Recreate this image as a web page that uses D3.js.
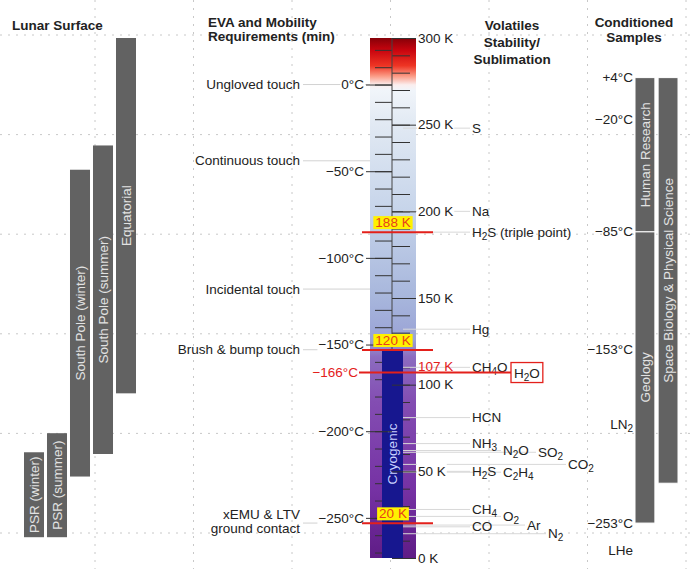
<!DOCTYPE html>
<html>
<head>
<meta charset="utf-8">
<script src="https://cdn.jsdelivr.net/npm/d3@7"></script>
<style>
  body { margin: 0; background: #fff; }
  text { font-family: "Liberation Sans", Arial, sans-serif; }
</style>
</head>
<body>
<div id="chart"></div>
<script>
// ---- data (temperatures in K unless noted) ----
const lunarSites = ["PSR (winter)", "PSR (summer)", "South Pole (winter)", "South Pole (summer)", "Equatorial"];
const lunarMinK = [12, 12, 47, 60, 95];
const lunarMaxK = [61, 72, 224, 238, 300];

const evaTasks = ["Ungloved touch", "Continuous touch", "Incidental touch", "Brush & bump touch", "xEMU & LTV|ground contact"];
const evaMinC = [0, -44, -118, -153, -253];

const volatiles = ["S", "Na", "H2S (triple point)", "Hg", "CH4O", "HCN", "NH3", "N2O", "SO2", "CO2",
                   "H2S", "C2H4", "CH4", "O2", "Ar", "CO", "N2"];
const volatileK = [248, 200, 188, 132, 110, 81, 66, 62, 61, 54, 50, 49.5, 28, 24, 19, 18, 14];

const limitK = [188, 120, 20];
const waterK = 107;

const sampleTypes = ["Human Research", "Geology", "Space Biology & Physical Science"];
const sampleCol = [0, 0, 1];
const sampleMaxC = [4, -85, 4];
const sampleMinC = [-85, -253, -230];

const sampleTicks = ["+4°C", "−20°C", "−85°C", "−153°C", "LN2", "−253°C", "LHe"];
const sampleTickK = [277.15, 253.15, 188.15, 120.15, 77, 20.15, 4.2];

const kelvinMajor = [0, 50, 100, 150, 200, 250, 300];
const celsiusMajor = [0, -50, -100, -150, -200, -250];

// label layout for the staggered volatile names
const volatileLabelX = [472, 472, 472, 472, 472, 472, 472, 503, 538, 568, 472, 503, 472, 503, 527, 472, 548];

const W = 690, H = 569;
const FS = 13.5;
const c2k = c => c + 273.15;
const fmtC = d => (d === 0 ? "0" : "−" + Math.abs(d)) + "°C";

const svg = d3.select("#chart").append("svg")
  .attr("width", W)
  .attr("height", H);

const y = d3.scaleLinear().domain([0, 300]).range([558, 38]);
const yC = d3.scaleLinear().domain([-273.15, 26.85]).range([558, 38]);

const thermo = { x0: 370, x1: 416, mid: 392, cryo0: 382, cryo1: 403 };

// subscript digits that follow a letter (chemical names)
function chem(sel, str) {
  let shifted = false;
  str.split(/(?<=[A-Za-z])(\d+)/).forEach((p, i) => {
    if (!p) return;
    const t = sel.append("tspan").text(p);
    if (i % 2 === 1) { t.attr("dy", 3).style("font-size", "10px"); shifted = true; }
    else if (shifted) { t.attr("dy", -3); shifted = false; }
  });
}

function whiteBehind(textSel, pad) {
  textSel.each(function() {
    const b = this.getBBox();
    d3.select(this.parentNode).insert("rect", () => this)
      .attr("x", b.x - pad).attr("y", b.y - 1)
      .attr("width", b.width + pad * 2).attr("height", b.height + 2)
      .attr("fill", "#fff");
  });
}

// ---- background grid ----
const grid = svg.append("g")
  .attr("stroke", "#c8c8c8")
  .attr("stroke-dasharray", "2,6");
grid.selectAll("line.v").data(d3.range(7)).enter().append("line")
  .attr("x1", i => 95 + i * 98.5).attr("x2", i => 95 + i * 98.5)
  .attr("y1", 0).attr("y2", H);
grid.selectAll("line.h").data(d3.range(6)).enter().append("line")
  .attr("x1", 0).attr("x2", W)
  .attr("y1", i => 35 + i * 99.6).attr("y2", i => 35 + i * 99.6);

// ---- headers ----
const head = svg.append("g")
  .attr("font-size", FS).attr("font-weight", "bold").attr("fill", "#222");
head.append("text").attr("x", 12).attr("y", 30).text("Lunar Surface");
head.append("text").attr("x", 208).attr("y", 27).text("EVA and Mobility");
head.append("text").attr("x", 208).attr("y", 41).text("Requirements (min)");
[["Volatiles", 30], ["Stability/", 47], ["Sublimation", 64]].forEach(([t, yy]) =>
  head.append("text").attr("x", 512).attr("y", yy).attr("text-anchor", "middle").text(t));
[["Conditioned", 27], ["Samples", 42]].forEach(([t, yy]) =>
  head.append("text").attr("x", 634).attr("y", yy).attr("text-anchor", "middle").text(t));

// ---- lunar surface bars ----
const xL = d3.scaleBand().domain(lunarSites).range([24, 136]).paddingInner(0.13);
const lunar = lunarSites.map((s, i) => ({ name: s, lo: lunarMinK[i], hi: lunarMaxK[i] }));

svg.selectAll("rect.lunar").data(lunar).enter().append("rect")
  .attr("class", "lunar")
  .attr("x", d => xL(d.name))
  .attr("width", xL.bandwidth())
  .attr("y", d => y(d.hi))
  .attr("height", d => y(d.lo) - y(d.hi))
  .attr("fill", "#626262");

svg.selectAll("text.lunar").data(lunar).enter().append("text")
  .attr("class", "lunar")
  .attr("transform", d => `translate(${xL(d.name) + xL.bandwidth() / 2 + 4.8},${(y(d.hi) + y(d.lo)) / 2}) rotate(-90)`)
  .attr("text-anchor", "middle")
  .attr("font-size", FS)
  .attr("fill", "#e2e2e2")
  .text(d => d.name);

// ---- EVA requirements ----
const eva = evaTasks.map((t, i) => ({ lines: t.split("|"), k: c2k(evaMinC[i]) }));
svg.selectAll("line.eva").data(eva).enter().append("line")
  .attr("x1", 303).attr("x2", thermo.x0)
  .attr("y1", d => y(d.k)).attr("y2", d => y(d.k))
  .attr("stroke", "#d2d2d2");

const evaText = svg.selectAll("text.eva").data(eva).enter().append("text")
  .attr("class", "eva")
  .attr("x", 300)
  .attr("y", d => d.lines.length > 1 ? y(d.k) - 4 : y(d.k) + 4.5)
  .attr("text-anchor", "end")
  .attr("font-size", FS)
  .attr("fill", "#222");
evaText.each(function(d) {
  d.lines.forEach((l, j) => d3.select(this).append("tspan")
    .attr("x", 300).attr("dy", j ? 14 : 0).text(l));
});

// ---- thermometer ----
const grad = svg.append("defs").append("linearGradient")
  .attr("id", "temp")
  .attr("gradientUnits", "userSpaceOnUse")
  .attr("x1", 0).attr("x2", 0)
  .attr("y1", y(300)).attr("y2", y(0));
[[300, "#860008"], [293, "#c8040e"], [284, "#ee3524"], [278, "#fb9b86"], [273, "#fbeeee"],
 [270, "#f1f5fa"], [250, "#e1e9f3"], [200, "#c6d4ea"], [150, "#a7b6dc"], [126, "#9aa2d6"],
 [116, "#8c6cc0"], [90, "#834db2"], [40, "#7632a4"], [0, "#5f1c86"]]
  .forEach(([k, c]) => grad.append("stop")
    .attr("offset", (y(k) - y(300)) / (y(0) - y(300)))
    .attr("stop-color", c));

svg.append("rect")
  .attr("x", thermo.x0).attr("width", thermo.x1 - thermo.x0)
  .attr("y", y(300)).attr("height", y(0) - y(300))
  .attr("fill", "url(#temp)");

// minor ticks
svg.append("g")
  .attr("transform", `translate(${thermo.mid},0)`)
  .call(d3.axisLeft(yC).tickValues(d3.range(-270, 21, 10)).tickSize(17).tickFormat(""))
  .call(g => g.select(".domain").remove())
  .selectAll("line").attr("stroke", "#333");
svg.append("g")
  .attr("transform", `translate(${thermo.mid},0)`)
  .call(d3.axisRight(y).tickValues(d3.range(0, 301, 10)).tickSize(18).tickFormat(""))
  .call(g => g.select(".domain").remove())
  .selectAll("line").attr("stroke", "#333");

// cryogenic core
svg.append("rect")
  .attr("x", thermo.cryo0).attr("width", thermo.cryo1 - thermo.cryo0)
  .attr("y", y(120)).attr("height", y(0) - y(120))
  .attr("fill", "#17178f");
svg.append("text")
  .attr("transform", `translate(${(thermo.cryo0 + thermo.cryo1) / 2 + 4.8},${(y(120) + y(0)) / 2}) rotate(-90)`)
  .attr("text-anchor", "middle")
  .attr("font-size", FS)
  .attr("fill", "#c9d2ff")
  .text("Cryogenic");

svg.append("line")
  .attr("x1", thermo.mid).attr("x2", thermo.mid)
  .attr("y1", y(300)).attr("y2", y(120))
  .attr("stroke", "#444");

// ---- volatile leader lines and names ----
const vol = volatiles.map((v, i) => ({ name: v, k: volatileK[i], x: volatileLabelX[i] }));
svg.selectAll("line.vol").data(vol).enter().append("line")
  .attr("x1", thermo.cryo1).attr("x2", d => d.x - 2)
  .attr("y1", d => y(d.k)).attr("y2", d => y(d.k))
  .attr("stroke", "#d8d8d8");

// major axes with labels on white
const cAxis = svg.append("g")
  .attr("transform", `translate(${thermo.mid},0)`)
  .call(d3.axisLeft(yC).tickValues(celsiusMajor).tickSize(26).tickPadding(2).tickFormat(fmtC))
  .call(g => g.select(".domain").remove());
cAxis.attr("font-size", FS).attr("font-family", null);
cAxis.selectAll("line").attr("stroke", "#333");
cAxis.selectAll("text").attr("fill", "#222");
whiteBehind(cAxis.selectAll("text"), 1);

const kAxis = svg.append("g")
  .attr("transform", `translate(${thermo.mid},0)`)
  .call(d3.axisRight(y).tickValues(kelvinMajor).tickSize(24).tickPadding(2).tickFormat(d => d + " K"))
  .call(g => g.select(".domain").remove());
kAxis.attr("font-size", FS).attr("font-family", null);
kAxis.selectAll("line").attr("stroke", "#333");
kAxis.selectAll("text").attr("fill", "#222");
whiteBehind(kAxis.selectAll("text"), 1);

svg.selectAll("text.vol").data(vol).enter().append("text")
  .attr("class", "vol")
  .attr("x", d => d.x)
  .attr("y", d => y(d.k) + 4.5)
  .attr("font-size", FS)
  .attr("fill", "#222")
  .each(function(d) { chem(d3.select(this), d.name); });

// ---- water line (107 K / -166 °C) ----
const red = "#e3201b";
const wy = y(waterK);
const wLab = svg.append("text")
  .attr("x", 358).attr("y", wy + 4.5)
  .attr("text-anchor", "end")
  .attr("font-size", FS).attr("fill", red)
  .text(fmtC(Math.round(waterK - 273.15)));
whiteBehind(wLab, 1);
svg.append("text")
  .attr("x", 418).attr("y", wy - 2)
  .attr("font-size", FS).attr("fill", red)
  .text(waterK + " K");
const h2o = svg.append("text")
  .attr("x", 514).attr("y", wy + 5.5)
  .attr("font-size", FS).attr("fill", "#222");
chem(h2o, "H2O");
const hb = h2o.node().getBBox();
svg.append("rect")
  .attr("x", hb.x - 3).attr("y", wy - 10)
  .attr("width", hb.width + 6).attr("height", 20)
  .attr("fill", "none").attr("stroke", red).attr("stroke-width", 1.3);
svg.append("line")
  .attr("x1", 359).attr("x2", hb.x - 3)
  .attr("y1", wy).attr("y2", wy)
  .attr("stroke", red).attr("stroke-width", 2);

// ---- limit lines with yellow tags ----
svg.selectAll("line.limit").data(limitK).enter().append("line")
  .attr("x1", 362).attr("x2", 433)
  .attr("y1", d => y(d)).attr("y2", d => y(d))
  .attr("stroke", red).attr("stroke-width", 2);
const tags = svg.selectAll("text.tag").data(limitK).enter().append("text")
  .attr("class", "tag")
  .attr("x", thermo.mid + 1)
  .attr("y", d => y(d) - 5)
  .attr("text-anchor", "middle")
  .attr("font-size", FS)
  .attr("fill", "#e8401a")
  .text(d => d + " K");
tags.each(function() {
  const b = this.getBBox();
  d3.select(this.parentNode).insert("rect", () => this)
    .attr("x", b.x - 2).attr("y", b.y + 1)
    .attr("width", b.width + 4).attr("height", b.height - 2)
    .attr("fill", "#fff200");
});

// ---- conditioned samples ----
const xS = d3.scaleBand().domain([0, 1]).range([635, 678]).paddingInner(0.14);
const samples = sampleTypes.map((s, i) => ({
  name: s, col: sampleCol[i], hi: c2k(sampleMaxC[i]), lo: c2k(sampleMinC[i])
}));
svg.selectAll("rect.sample").data(samples).enter().append("rect")
  .attr("class", "sample")
  .attr("x", d => xS(d.col))
  .attr("width", xS.bandwidth())
  .attr("y", d => y(d.hi))
  .attr("height", d => y(d.lo) - y(d.hi))
  .attr("fill", "#626262")
  .attr("stroke", "#fff").attr("stroke-width", 1);
svg.selectAll("text.sample").data(samples).enter().append("text")
  .attr("class", "sample")
  .attr("transform", d => `translate(${xS(d.col) + xS.bandwidth() / 2 + 4.8},${(y(d.hi) + y(d.lo)) / 2}) rotate(-90)`)
  .attr("text-anchor", "middle")
  .attr("font-size", FS)
  .attr("fill", "#e2e2e2")
  .text(d => d.name);

svg.selectAll("text.stick").data(sampleTicks).enter().append("text")
  .attr("class", "stick")
  .attr("x", 633)
  .attr("y", (d, i) => y(sampleTickK[i]) + 4.5)
  .attr("text-anchor", "end")
  .attr("font-size", FS)
  .attr("fill", "#222")
  .each(function(d) { chem(d3.select(this), d); });
</script>
</body>
</html>
